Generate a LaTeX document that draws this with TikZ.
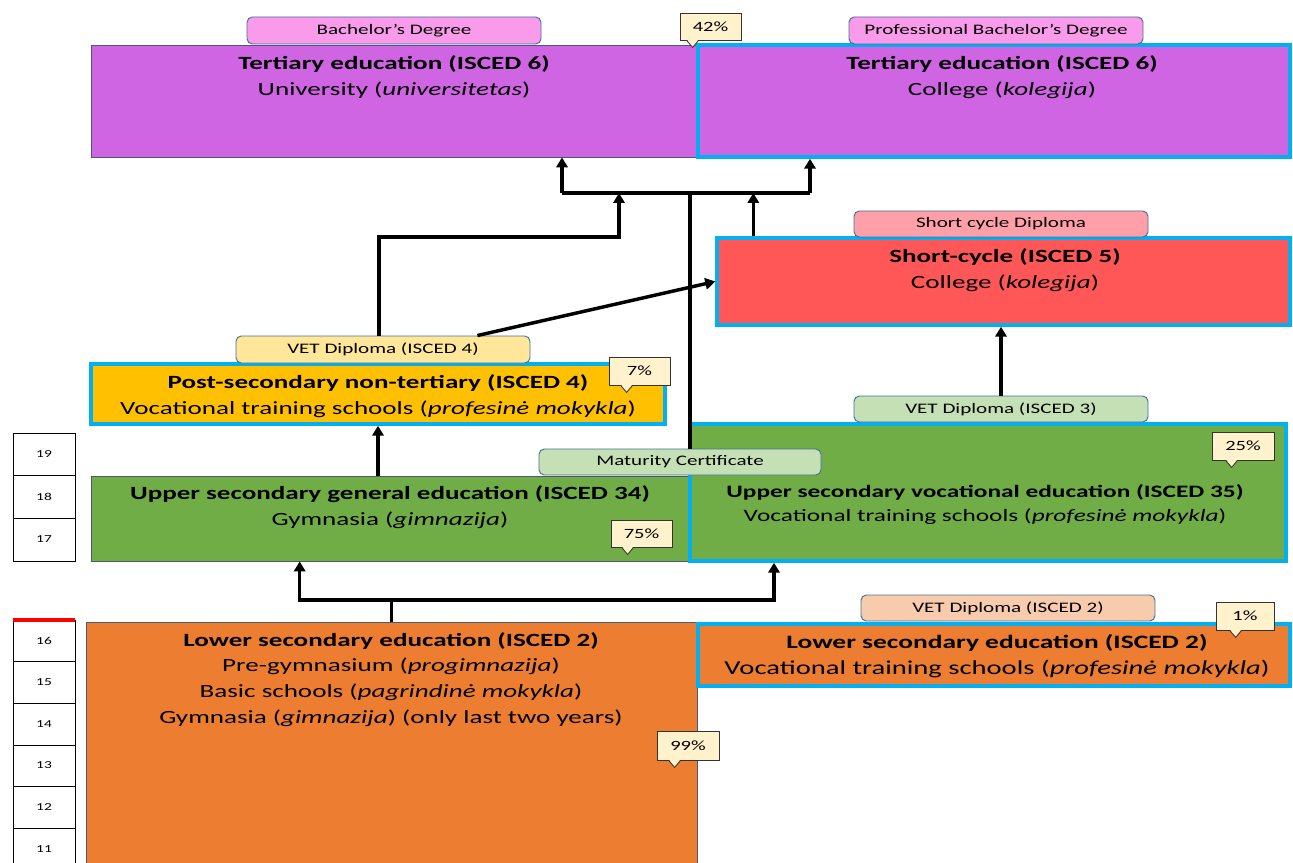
\documentclass[tikz,border=0pt]{standalone}
\usepackage{fontspec}
\setmainfont{Carlito}[FakeStretch=1.45]
\usetikzlibrary{calc,arrows.meta}
\definecolor{purp}{HTML}{D065E3}
\definecolor{cyanb}{HTML}{00B0F0}
\definecolor{scred}{HTML}{FF5757}
\definecolor{yel}{HTML}{FFC000}
\definecolor{grn}{HTML}{70AD47}
\definecolor{org}{HTML}{ED7D31}
\definecolor{lpink}{HTML}{F99AEB}
\definecolor{lsalmon}{HTML}{FFA0A9}
\definecolor{lyel}{HTML}{FFE699}
\definecolor{lgrn}{HTML}{C5E0B4}
\definecolor{lpeach}{HTML}{F8CBAD}
\definecolor{callf}{HTML}{FFF2CC}
\definecolor{labline}{HTML}{41719C}
\definecolor{boxline}{HTML}{4A5A75}
\tikzset{
  plainbox/.style={draw=boxline, line width=0.6pt},
  cyanbox/.style={draw=cyanb, line width=2.6pt},
  lab/.style={draw=labline, line width=0.7pt, rounded corners=4pt, font=\fontsize{10.9}{12}\selectfont},
  callout/.style={draw=black!80, line width=0.6pt, fill=callf, font=\fontsize{10.6}{12}\selectfont},
  agebox/.style={draw=black, line width=0.6pt, fill=white, font=\fontsize{8}{9}\selectfont},
  ttl/.style={align=center, inner sep=0pt, anchor=north, font=\fontsize{14}{19.5}\selectfont},
  conn/.style={line width=2.6pt, line join=miter},
  arr/.style={conn, -{Triangle[width=8.5pt,length=7.5pt]}},
}
% box from pixel corners (x1,y1)-(x2,y2)
\newcommand\bx[7][]{%
  \pgfmathsetmacro\rcx{(#3+#5)/2}\pgfmathsetmacro\rcy{(#4+#6)/2}%
  \pgfmathsetmacro\rw{(#5-#3)*0.75}\pgfmathsetmacro\rh{(#6-#4)*0.75}%
  \node[#1, inner sep=0pt, minimum width=\rw pt, minimum height=\rh pt] (#2) at (\rcx,\rcy) {#7};}
\newcommand\ptr[2]{%
  \fill[callf] ($(#1.south west)+(#2-6,-1.3)$) -- ($(#1.south west)+(#2,7)$) -- ($(#1.south west)+(#2+6,-1.3)$) -- cycle;
  \draw[black!80, line width=0.6pt] ($(#1.south west)+(#2-6,0)$) -- ($(#1.south west)+(#2,7)$) -- ($(#1.south west)+(#2+6,0)$);}
\begin{document}
\begin{tikzpicture}[x=0.75pt, y=-0.75pt]
\useasboundingbox (0,0) rectangle (1293,863);

% ---- main boxes
\bx[plainbox, fill=purp]{uni}{91}{45}{698}{157}{}
\bx[cyanbox, fill=purp]{coll}{698}{45}{1290}{157}{}
\bx[cyanbox, fill=scred]{sc}{717}{238}{1290}{325}{}
\bx[cyanbox, fill=yel]{post}{91}{364}{665}{424}{}
\bx[plainbox, fill=grn]{gen}{91}{476}{698}{561}{}
\bx[cyanbox, fill=grn]{voc}{690}{424}{1286}{561}{}
\bx[plainbox, fill=org]{low}{86}{622}{697}{870}{}
\bx[cyanbox, fill=org]{lowv}{698}{624}{1290}{686}{}

% ---- box texts
\node[ttl] (tuni) at (394,55) {\textbf{Tertiary education (ISCED 6)}\\University (\textit{universitetas})};
\node[ttl] (tcoll) at (1002,55) {\textbf{Tertiary education (ISCED 6)}\\College (\textit{kolegija})};
\node[ttl] (tsc) at (1005,248) {\textbf{Short-cycle (ISCED 5)}\\College (\textit{kolegija})};
\node[ttl] (tpost) at (378,374) {\textbf{Post-secondary non-tertiary (ISCED 4)}\\Vocational training schools (\textit{profesinė mokykla})};
\node[ttl] (tgen) at (390,485) {\textbf{Upper secondary general education (ISCED 34)}\\Gymnasia (\textit{gimnazija})};
\node[ttl, font=\fontsize{13.1}{18}\selectfont] (tvoc) at (985,484) {\textbf{Upper secondary vocational education (ISCED 35)}\\Vocational training schools (\textit{profesinė mokykla})};
\node[ttl, font=\fontsize{14}{19.3}\selectfont] (tlow) at (391,632) {\textbf{Lower secondary education (ISCED 2)}\\Pre-gymnasium (\textit{progimnazija})\\Basic schools (\textit{pagrindinė mokykla})\\Gymnasia (\textit{gimnazija}) (only last two years)};
\node[ttl, font=\fontsize{14.2}{19.5}\selectfont] (tlowv) at (997,634) {\textbf{Lower secondary education (ISCED 2)}\\\fontsize{14.8}{19.5}\selectfont Vocational training schools (\textit{profesinė mokykla})};

% ---- certificate labels
\bx[lab, fill=lpink]{lbach}{247}{17}{541}{44}{Bachelor’s Degree}
\bx[lab, fill=lpink]{lprof}{849}{17}{1143}{44}{Professional Bachelor’s Degree}
\bx[lab, fill=lsalmon]{lsc}{854}{211}{1148}{237}{Short cycle Diploma}
\bx[lab, fill=lyel]{vet4}{236}{336}{530}{363}{VET Diploma (ISCED 4)}
\bx[lab, fill=lgrn]{vet3}{854}{396}{1148}{422}{VET Diploma (ISCED 3)}
\bx[lab, fill=lpeach]{vet2}{861}{595}{1155}{621}{VET Diploma (ISCED 2)}

% ---- connectors
\coordinate (bL) at (562,193);
\coordinate (bR) at (810,193);
\coordinate (k1) at (619,237);
\coordinate (jlow) at (391.5,600);
\draw[conn] (bL) -- (bR);
\draw[arr] (bL) -- (bL |- uni.south);
\draw[arr] (bR) -- (bR |- coll.south);
\draw[arr] ($(vet4.north west)!0.486!(vet4.north east)$) |- (k1) -- (k1 |- bL);
\draw[arr] ($(sc.north west)!0.066!(sc.north east)$) coordinate (s1) -- (s1 |- bL);
\draw[arr] ($(vet4.north west)!0.82!(vet4.north east)$) -- (sc.west);
\draw[arr] (vet3.north) -- (vet3.north |- sc.south);
\draw[arr] (post.south |- gen.north) -- (post.south);
\draw[conn] (low.north) -- (jlow);
\draw[arr] (jlow) -| ($(gen.south west)!0.344!(gen.south east)$);
\draw[arr] (jlow) -| ($(voc.south west)!0.143!(voc.south east)$);

% maturity certificate label and central line
\bx[lab, fill=lgrn]{mat}{539}{449}{821}{475}{Maturity Certificate}
\draw[conn] ($(mat.north west)!0.535!(mat.north east)$) coordinate (m1) -- (m1 |- bL);

% ---- percentage callouts
\bx[callout]{c42}{680}{13}{741}{40}{42\%}\ptr{c42}{13}
\bx[callout]{c7}{609}{357}{670}{385}{7\%}\ptr{c7}{18}
\bx[callout]{c25}{1212}{432}{1274}{460}{25\%}\ptr{c25}{20}
\bx[callout]{c75}{611}{520}{672}{547}{75\%}\ptr{c75}{17}
\bx[callout]{c1}{1216}{602}{1274}{630}{1\%}\ptr{c1}{20}
\bx[callout]{c99}{657}{731}{719}{760}{99\%}\ptr{c99}{18}

% ---- age column
\bx[agebox]{a19}{13}{433}{75}{475}{19}
\bx[agebox]{a18}{13}{475}{75}{518}{18}
\bx[agebox]{a17}{13}{518}{75}{561}{17}
\bx[agebox]{a16}{13}{620}{75}{661}{16}
\bx[agebox]{a15}{13}{661}{75}{703}{15}
\bx[agebox]{a14}{13}{703}{75}{745}{14}
\bx[agebox]{a13}{13}{745}{75}{786}{13}
\bx[agebox]{a12}{13}{786}{75}{828}{12}
\bx[agebox]{a11}{13}{828}{75}{870}{11}
\draw[red, line width=3pt] (a16.north west) -- (a16.north east);
\end{tikzpicture}
\end{document}
